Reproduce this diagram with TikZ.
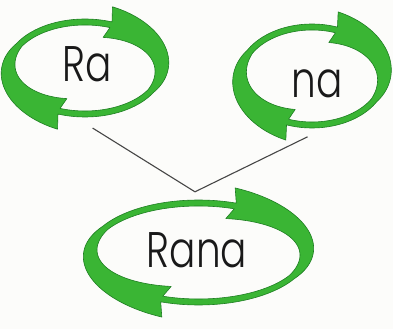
\documentclass[tikz,border=0pt]{standalone}
\usepackage{fontspec}
\setmainfont{Poppins Light}
\usepackage{graphicx}
\usepackage{tikz}
\usetikzlibrary{arrows,positioning,shapes}
\definecolor{leafgreen}{RGB}{58,181,52}
\definecolor{darkleaf}{RGB}{30,126,34}
\definecolor{inkgrey}{RGB}{70,70,70}
\definecolor{paper}{RGB}{252,252,250}
\tikzstyle{syll}=[ellipse, inner sep=0pt, text=black!90, font=\fontsize{50}{50}\selectfont]
\tikzstyle{ring}=[fill=leafgreen, draw=darkleaf, line width=0.6pt, even odd rule, line join=round]
\tikzstyle{link}=[draw=inkgrey, line width=1.1pt]
\newcommand{\cyclering}[3]{%
  \path[ring, shift={(#1)}]
    plot[domain=73:-30, samples=45] ({(#2+3+15*(\x+30)/103)*cos(\x)},{(#3+3+15*(\x+30)/103)*sin(\x)})
    -- plot[domain=-30:-110, samples=35] ({(#2+3)*cos(\x)},{(#3+3)*sin(\x)})
    -- plot[domain=-107:-210, samples=45] ({(#2+3+15*(\x+210)/103)*cos(\x)},{(#3+3+15*(\x+210)/103)*sin(\x)})
    -- plot[domain=-210:-290, samples=35] ({(#2+3)*cos(\x)},{(#3+3)*sin(\x)}) -- cycle
    plot[domain=73:-30, samples=45] ({(#2-3-11*(\x+30)/103)*cos(\x)},{(#3-3-11*(\x+30)/103)*sin(\x)})
    -- plot[domain=-30:-110, samples=35] ({(#2-3)*cos(\x)},{(#3-3)*sin(\x)})
    -- plot[domain=-107:-210, samples=45] ({(#2-3-11*(\x+210)/103)*cos(\x)},{(#3-3-11*(\x+210)/103)*sin(\x)})
    -- plot[domain=-210:-290, samples=35] ({(#2-3)*cos(\x)},{(#3-3)*sin(\x)}) -- cycle;
}

\begin{document}
\begin{tikzpicture}[x=1pt, y=1pt, auto]
                        \fill[paper] (0,0) rectangle (393,329);
                        \useasboundingbox (0,0) rectangle (393,329);
                        \cyclering{85,261}{76}{46}
                        \cyclering{312,253}{71.5}{49}
                        \cyclering{198.5,76.5}{107.5}{49.5}
                        \node [syll, minimum width=170pt, minimum height=128pt] (ra) at (87,265) {\scalebox{0.78}[1]{Ra}};
                        \node [syll, minimum width=150pt, minimum height=107pt] (na) at (317,245.5) {\scalebox{0.78}[1]{na}};
                        \node [syll, minimum width=230pt, minimum height=116pt] (rana) at (197,79) {\scalebox{0.78}[1]{Rana}};
                        \path[link] (ra.-85) -- (rana.92);
                        \path[link] (na.-100) -- (rana.92);
                    \end{tikzpicture}
\end{document}
